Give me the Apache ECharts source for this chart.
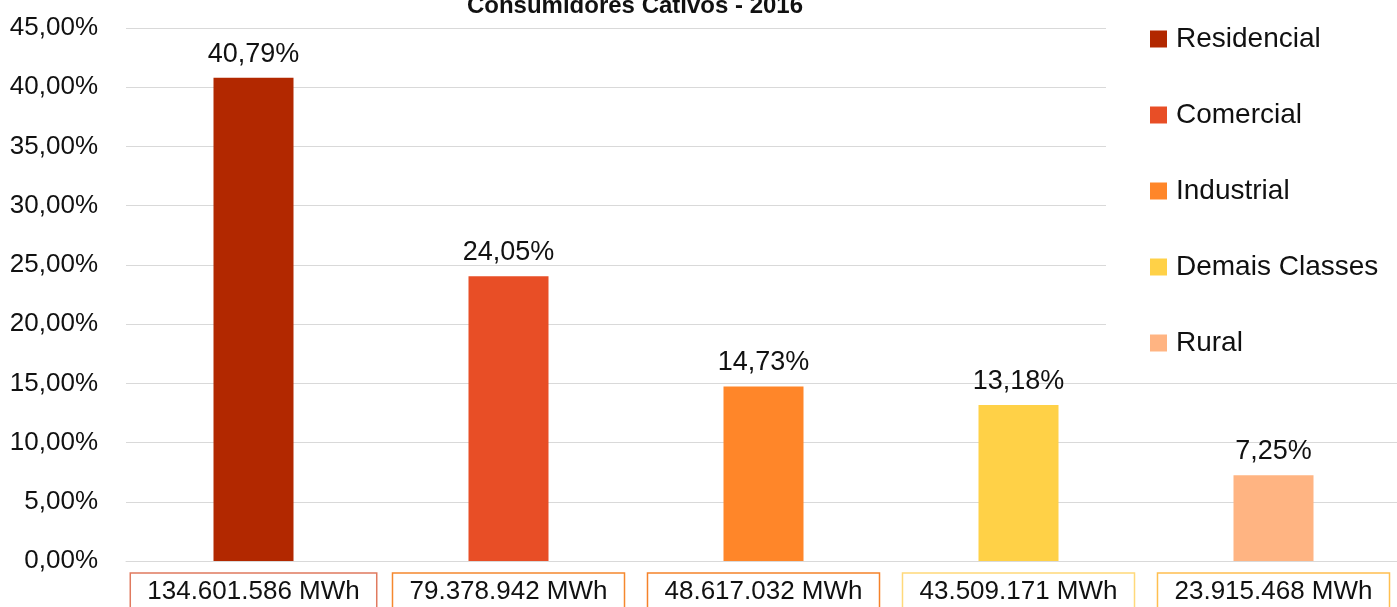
<!DOCTYPE html>
<html>
<head>
<meta charset="utf-8">
<script src="https://cdn.jsdelivr.net/npm/echarts@6/dist/echarts.min.js"></script>
<style>
    html, body { margin: 0; padding: 0; background: #fff; }
    #chart { width: 1397px; height: 607px; }
</style>
</head>
<body>
<div id="chart"></div>
<script>
var categories = ['Residencial', 'Comercial', 'Industrial', 'Demais Classes', 'Rural'];
var percents = [40.79, 24.05, 14.73, 13.18, 7.25];
var mwh = ['134.601.586 MWh', '79.378.942 MWh', '48.617.032 MWh', '43.509.171 MWh', '23.915.468 MWh'];
var colors = ['#B22800', '#E84E26', '#FF8629', '#FFD147', '#FFB482'];
var boxBorders = ['#E07A5F', '#F5882E', '#F5822A', '#FFD97A', '#FFBF50'];

var font = '"Liberation Sans Narrow", "Arial Narrow", "Liberation Sans", sans-serif';

function pct(v) {
    return v.toFixed(2).replace('.', ',') + '%';
}

// uma serie por classe, sobrepostas, para a legenda
var series = categories.map(function (name, i) {
    var d = categories.map(function (c, j) {
        return j === i ? percents[i] : '-';
    });
    return {
        name: name,
        type: 'bar',
        data: d,
        barWidth: 80,
        barGap: '-100%',
        itemStyle: {color: colors[i]},
        label: {
            show: true,
            position: 'top',
            distance: 10,
            fontFamily: font,
            fontSize: 27,
            color: '#111',
            formatter: function (p) {
                return pct(p.value);
            }
        }
    };
});

var rich = {};
boxBorders.forEach(function (c, i) {
    rich['b' + i] = {
        fontFamily: font,
        fontSize: 26,
        color: '#111',
        borderColor: c,
        borderWidth: 1.5,
        padding: [6, 17, 12, 17],
        lineHeight: 30
    };
});

var chart = echarts.init(document.getElementById('chart'));
chart.setOption({
    animation: false,
    title: {
        text: 'Consumidores Cativos - 2016',
        left: 630,
        textAlign: 'center',
        top: -11,
        textStyle: {
            fontFamily: '"Liberation Sans", Arial, sans-serif',
            fontWeight: 'bold',
            fontSize: 24,
            color: '#111'
        }
    },
    legend: {
        orient: 'vertical',
        left: 1106,
        top: 0,
        padding: [25, 40, 12, 44],
        backgroundColor: '#fff',
        itemWidth: 17,
        itemHeight: 17,
        itemGap: 48,
        icon: 'rect',
        data: categories,
        textStyle: {
            fontFamily: font,
            fontSize: 28,
            color: '#111',
            padding: [0, 0, 0, 4]
        }
    },
    grid: {
        left: 126,
        right: -4,
        top: 28,
        bottom: 46,
        outerBoundsMode: 'none'
    },
    xAxis: {
        type: 'category',
        data: categories,
        axisTick: {show: false},
        axisLine: {lineStyle: {color: '#D9D9D9'}},
        axisLabel: {
            margin: 19,
            formatter: function (v, i) {
                return '{b' + i + '|' + mwh[i] + '}';
            },
            rich: rich
        }
    },
    yAxis: {
        type: 'value',
        min: 0,
        max: 45,
        interval: 5,
        axisLine: {show: false},
        axisTick: {show: false},
        splitLine: {lineStyle: {color: '#D9D9D9'}},
        axisLabel: {
            margin: 28,
            fontFamily: font,
            fontSize: 26,
            color: '#111',
            formatter: function (v) {
                return pct(v);
            }
        }
    },
    series: series
});
</script>
</body>
</html>
